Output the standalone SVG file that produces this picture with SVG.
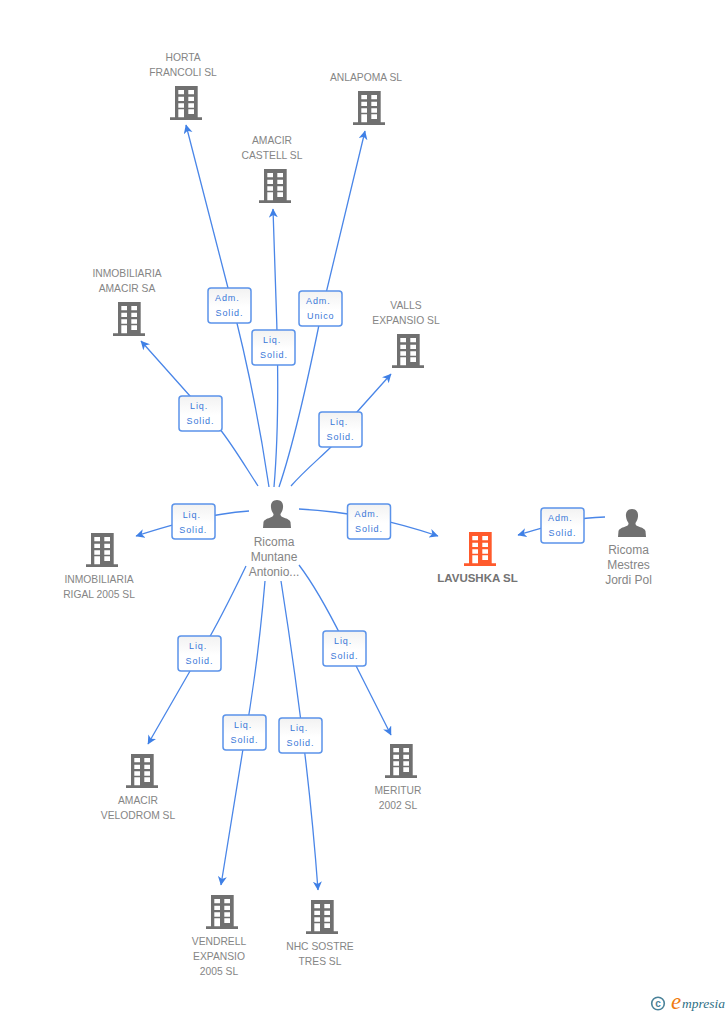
<svg xmlns="http://www.w3.org/2000/svg" width="728" height="1015" viewBox="0 0 728 1015">
<style>
.t{font-family:"Liberation Sans",Arial,sans-serif;font-size:10.3px;fill:#858585;text-anchor:middle}
.p{font-size:12px}
.b{font-weight:bold;font-size:11.5px;fill:#737373}
.c{fill:none;stroke:#4a86e8;stroke-width:1.3;marker-end:url(#a)}
.l{fill:url(#g);stroke:#5b93ea;stroke-width:1.5}
.lt{font-family:"Liberation Sans",Arial,sans-serif;font-size:9px;letter-spacing:.9px;fill:#3a78d8}
</style>
<defs>
<marker id="a" markerUnits="userSpaceOnUse" markerWidth="10" markerHeight="10" refX="8.500" refY="4.500" orient="auto"><path d="M0 0L9 4.500L0 9L2.500 4.500Z" fill="#3f80e6"/></marker>
<symbol id="bld" viewBox="0 0 32 34" width="32" height="34" overflow="visible">
<path fill-rule="evenodd" fill="currentColor" d="M5 0H27.700V31.300H32V34H0V31.300H5ZM8.300 4V8.300H14V4ZM18.300 4V8.300H24V4ZM8.300 10.700V15H14V10.700ZM18.300 10.700V15H24V10.700ZM8.300 17.300V21.700H14V17.300ZM18.300 17.300V21.700H24V17.300ZM8.300 23.300V31.300H14V23.300ZM18.300 23.300V28H24V23.300Z"/>
</symbol>
<symbol id="per" viewBox="0 0 28 28" width="28" height="28">
<path fill="#707070" d="M14 0C18.500 0 20.500 3.500 20 7.500C19.800 10 18.800 12 17.500 14C17.300 15.500 18 16.500 20 17.300C23 18.500 26.500 19.500 27.500 22L28 28H0L.5 22C1.500 19.500 5 18.500 8 17.300C10 16.500 10.700 15.500 10.500 14C9.200 12 8.200 10 8 7.500C7.500 3.500 9.500 0 14 0Z"/>
</symbol>
<linearGradient id="g" x1="0" y1="0" x2="0" y2="1"><stop offset="0" stop-color="#f2f2f2"/><stop offset=".55" stop-color="#fff"/></linearGradient>
</defs>

<g id="connectors">
<path class="c" d="M269 487C262 440 250 370 228 288L186 125"/>
<path class="c" d="M274 487C278 440 279 380 276 300L273 209"/>
<path class="c" d="M279 487C295 440 310 370 322 310L365 131"/>
<path class="c" d="M258 486C245 466 232 444 219 428L190 396L141 341"/>
<path class="c" d="M291 486C305 470 320 458 332 446L357 412L391 374"/>
<path class="c" d="M249 511C210 514 180 522 136 536"/>
<path class="c" d="M299 509C350 512 390 520 438 536"/>
<path class="c" d="M605 517C570 518 550 526 518 535"/>
<path class="c" d="M246 566C232 595 220 620 205 645L148 744"/>
<path class="c" d="M265 581C260 640 252 700 243 749L221 885"/>
<path class="c" d="M281 581C295 670 310 780 318 890"/>
<path class="c" d="M299 565C318 590 333 620 343 640L391 735"/>
</g>

<g id="labels">
<g transform="translate(208,288)"><rect class="l" width="43" height="35" rx="3"/><text class="lt" x="7" y="13">Adm.</text><text class="lt" x="7.500" y="28">Solid.</text></g>
<g transform="translate(252,330)"><rect class="l" width="43" height="35" rx="3"/><text class="lt" x="11" y="13">Liq.</text><text class="lt" x="8" y="28">Solid.</text></g>
<g transform="translate(299,291)"><rect class="l" width="43" height="35" rx="3"/><text class="lt" x="7" y="13">Adm.</text><text class="lt" x="8" y="28">Unico</text></g>
<g transform="translate(179,396)"><rect class="l" width="43" height="35" rx="3"/><text class="lt" x="11" y="13">Liq.</text><text class="lt" x="7.500" y="28">Solid.</text></g>
<g transform="translate(319,412)"><rect class="l" width="43" height="35" rx="3"/><text class="lt" x="11" y="13">Liq.</text><text class="lt" x="7.500" y="28">Solid.</text></g>
<g transform="translate(172,504)"><rect class="l" width="43" height="35" rx="3"/><text class="lt" x="10.700" y="13.700">Liq.</text><text class="lt" x="7.300" y="28.700">Solid.</text></g>
<g transform="translate(347.500,504)"><rect class="l" width="43" height="35" rx="3"/><text class="lt" x="7" y="13">Adm.</text><text class="lt" x="7.500" y="28">Solid.</text></g>
<g transform="translate(541,508)"><rect class="l" width="43" height="35" rx="3"/><text class="lt" x="7" y="13">Adm.</text><text class="lt" x="7.500" y="28">Solid.</text></g>
<g transform="translate(178,636)"><rect class="l" width="43" height="35" rx="3"/><text class="lt" x="11" y="13">Liq.</text><text class="lt" x="7.500" y="28">Solid.</text></g>
<g transform="translate(223,715)"><rect class="l" width="43" height="35" rx="3"/><text class="lt" x="11" y="13">Liq.</text><text class="lt" x="7.500" y="28">Solid.</text></g>
<g transform="translate(279,718)"><rect class="l" width="43" height="35" rx="3"/><text class="lt" x="11" y="13">Liq.</text><text class="lt" x="7.500" y="28">Solid.</text></g>
<g transform="translate(323,631)"><rect class="l" width="43" height="35" rx="3"/><text class="lt" x="11" y="13">Liq.</text><text class="lt" x="7.500" y="28">Solid.</text></g>
</g>

<g id="n-horta" color="#707070"><use href="#bld" x="170" y="86"/><text class="t" x="183" y="61">HORTA</text><text class="t" x="183" y="76">FRANCOLI SL</text></g>
<g id="n-anlapoma" color="#707070"><use href="#bld" x="353" y="91"/><text class="t" x="366" y="81">ANLAPOMA SL</text></g>
<g id="n-castell" color="#707070"><use href="#bld" x="259" y="169"/><text class="t" x="272" y="144">AMACIR</text><text class="t" x="272" y="159">CASTELL SL</text></g>
<g id="n-inmob" color="#707070"><use href="#bld" x="113" y="302"/><text class="t" x="127" y="277">INMOBILIARIA</text><text class="t" x="127" y="292">AMACIR SA</text></g>
<g id="n-valls" color="#707070"><use href="#bld" x="392" y="334"/><text class="t" x="406" y="309">VALLS</text><text class="t" x="406" y="324">EXPANSIO SL</text></g>
<g id="n-rigal" color="#707070"><use href="#bld" x="86" y="533"/><text class="t" x="99" y="583">INMOBILIARIA</text><text class="t" x="99" y="598">RIGAL 2005 SL</text></g>
<g id="n-lavushka" color="#ff5a2c"><use href="#bld" x="464" y="532"/><text class="t b" x="477.500" y="582">LAVUSHKA SL</text></g>
<g id="n-velodrom" color="#707070"><use href="#bld" x="126" y="754"/><text class="t" x="138" y="804">AMACIR</text><text class="t" x="138" y="819">VELODROM SL</text></g>
<g id="n-meritur" color="#707070"><use href="#bld" x="385" y="744"/><text class="t" x="398" y="794">MERITUR</text><text class="t" x="398" y="809">2002 SL</text></g>
<g id="n-vendrell" color="#707070"><use href="#bld" x="206" y="895"/><text class="t" x="219" y="945">VENDRELL</text><text class="t" x="219" y="960">EXPANSIO</text><text class="t" x="219" y="975">2005 SL</text></g>
<g id="n-nhc" color="#707070"><use href="#bld" x="306" y="900"/><text class="t" x="320" y="950">NHC SOSTRE</text><text class="t" x="320" y="965">TRES SL</text></g>
<g id="n-antonio"><use href="#per" x="263" y="500"/><text class="t p" x="274" y="546">Ricoma</text><text class="t p" x="274" y="561">Muntane</text><text class="t p" x="274" y="576">Antonio...</text></g>
<g id="n-jordi"><use href="#per" x="618" y="509"/><text class="t p" x="628.500" y="554">Ricoma</text><text class="t p" x="628.500" y="569">Mestres</text><text class="t p" x="628.500" y="584">Jordi Pol</text></g>
<g id="logo"><circle cx="658" cy="1003.500" r="6.300" fill="none" stroke="#4a8299" stroke-width="1.600"/><text x="658" y="1007" font-family="'Liberation Sans',sans-serif" font-size="10" font-weight="bold" fill="#4a8299" text-anchor="middle">c</text><text x="671" y="1009" font-family="'Liberation Serif',serif" font-style="italic" font-size="23" fill="#f07a10">e</text><text x="682" y="1008" font-family="'Liberation Serif',serif" font-style="italic" font-size="13.500" fill="#2f6f85">mpresia</text></g>
</svg>
